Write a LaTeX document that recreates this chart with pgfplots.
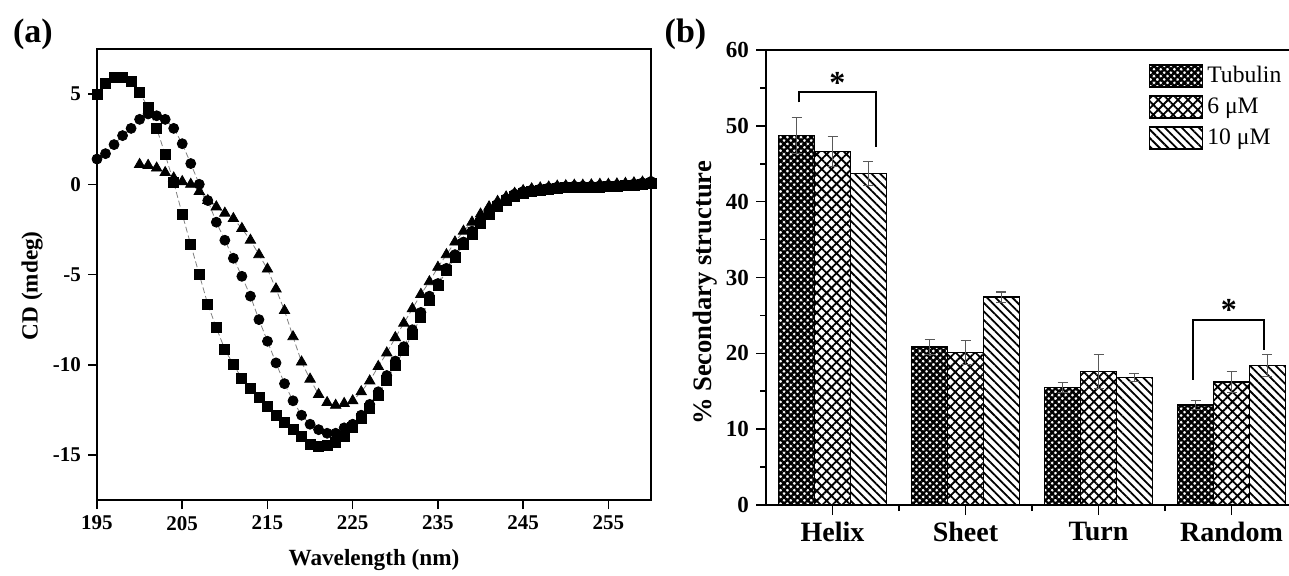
\documentclass[border=0pt]{standalone}
\usepackage{fontspec}
\setmainfont{Liberation Serif}
\usepackage{pgfplots}
\usepackage{pgfplotstable}
\pgfplotsset{compat=1.18}
\usetikzlibrary{patterns.meta}

% CD spectra (wavelength, squares, circles, triangles)
\pgfplotstableread{
wl sq ci tr
195 5.0 1.4 nan
196 5.6 1.7 nan
197 5.9 2.2 nan
198 5.9 2.7 nan
199 5.7 3.1 nan
200 5.1 3.6 1.1
201 4.25 3.9 1.05
202 3.1 3.8 0.9
203 1.65 3.6 0.65
204 0.1 3.1 0.35
205 -1.65 2.25 0.15
206 -3.35 1.15 0.0
207 -5.0 0.0 -0.4
208 -6.65 -0.9 -0.9
209 -7.95 -2.1 -1.25
210 -9.15 -3.1 -1.6
211 -10.0 -4.1 -1.9
212 -10.75 -5.1 -2.45
213 -11.3 -6.2 -3.1
214 -11.8 -7.5 -3.9
215 -12.3 -8.7 -4.7
216 -12.8 -9.9 -5.8
217 -13.2 -11.05 -7.0
218 -13.6 -12.0 -8.45
219 -14.0 -12.8 -9.85
220 -14.4 -13.3 -10.8
221 -14.55 -13.6 -11.65
222 -14.5 -13.8 -12.1
223 -14.3 -13.8 -12.25
224 -13.95 -13.5 -12.15
225 -13.5 -13.3 -12.0
226 -13.0 -12.8 -11.5
227 -12.4 -12.2 -10.9
228 -11.7 -11.5 -10.1
229 -10.85 -10.6 -9.35
230 -10.05 -9.8 -8.5
231 -9.2 -9.0 -7.7
232 -8.3 -8.06 -6.9
233 -7.35 -7.1 -6.1
234 -6.45 -6.2 -5.4
235 -5.6 -5.5 -4.6
236 -4.8 -4.66 -3.9
237 -4.05 -3.9 -3.2
238 -3.35 -3.2 -2.6
239 -2.75 -2.6 -2.1
240 -2.15 -2.0 -1.65
241 -1.65 -1.46 -1.25
242 -1.25 -1.1 -0.95
243 -0.9 -0.8 -0.7
244 -0.65 -0.54 -0.5
245 -0.5 -0.4 -0.35
246 -0.4 -0.32 -0.25
247 -0.32 -0.26 -0.2
248 -0.27 -0.2 -0.15
249 -0.22 -0.15 -0.1
250 -0.18 -0.12 -0.08
251 -0.15 -0.1 -0.05
252 -0.15 -0.1 -0.05
253 -0.15 -0.1 -0.03
254 -0.15 -0.08 0.0
255 -0.12 -0.06 0.0
256 -0.1 -0.05 0.02
257 -0.08 -0.02 0.05
258 -0.05 0.02 0.08
259 0.0 0.08 0.12
260 0.05 0.15 0.18
}\cdtable

% secondary structure (%), with errors
\pgfplotstableread{
x tub tube six sixe ten tene
0 48.7 2.4 46.6 2.0 43.7 1.6
1 20.8 1.0 20.1 1.6 27.4 0.7
2 15.5 0.7 17.6 2.2 16.8 0.5
3 13.2 0.6 16.2 1.4 18.4 1.5
}\sstable

\pgfplotsset{
  barleg/.style={legend image code/.code={\draw[##1] (0pt,-5.5pt) rectangle (26.5pt,5.5pt);}},
}

\begin{document}
\begin{tikzpicture}

\node[font=\bfseries\fontsize{17}{17}\selectfont] at (16.5pt,270.5pt) {(a)};
\node[font=\bfseries\fontsize{17}{17}\selectfont] at (342.75pt,270.5pt) {(b)};

\begin{axis}[
  at={(48.5pt,37.5pt)}, anchor=south west,
  scale only axis, width=277pt, height=225.5pt,
  xmin=195, xmax=260, ymin=-17.5, ymax=7.5,
  xtick={195,205,...,255}, ytick={-15,-10,...,5},
  tick pos=left, tick align=outside,
  major tick length=4.5pt,
  every tick/.style={black, line width=0.8pt},
  axis line style={line width=1pt},
  /pgf/number format/assume math mode=true,
  ticklabel style={font=\bfseries\fontsize{10.5}{12}\selectfont},
  label style={font=\bfseries\fontsize{11.6}{13}\selectfont},
  xlabel={Wavelength (nm)},
  ylabel={CD (mdeg)},
  xlabel style={at={(axis description cs:0.5,-0.133)}, anchor=center},
  ylabel style={at={(axis description cs:-0.117,0.475)}, anchor=center},
]
\addplot[gray, dash pattern=on 3pt off 1.5pt, line width=0.4pt,
  mark=square*, mark size=2.5pt, mark options={solid, black}]
  table[x=wl, y=sq] {\cdtable};
\addplot[gray, dash pattern=on 3pt off 1.5pt, line width=0.4pt,
  mark=*, mark size=2.5pt, mark options={solid, black}]
  table[x=wl, y=ci] {\cdtable};
\addplot[gray, dash pattern=on 3pt off 1.5pt, line width=0.4pt,
  mark=triangle*, mark size=3pt, mark options={solid, black}]
  table[x=wl, y=tr] {\cdtable};
\end{axis}

\begin{axis}[
  at={(383pt,35pt)}, anchor=south west,
  scale only axis, width=266pt, height=227.5pt,
  xmin=-0.5, xmax=3.5, ymin=0, ymax=60,
  ybar=0pt, bar width=0.27,
  xtick={0,1,2,3}, xticklabels={Helix,Sheet,Turn,Random},
  minor xtick={0.5,1.5,2.5},
  ytick={0,10,...,60}, minor y tick num=1,
  tick pos=left, tick align=outside,
  major tick length=5pt, minor tick length=3pt,
  every tick/.style={black, line width=0.8pt},
  axis line style={line width=1pt},
  /pgf/number format/assume math mode=true,
  yticklabel style={font=\bfseries\fontsize{11.5}{13}\selectfont},
  xticklabel style={font=\bfseries\fontsize{14}{16}\selectfont},
  ylabel={\% Secondary structure},
  ylabel style={font=\bfseries\fontsize{13.3}{15}\selectfont,
    at={(axis description cs:-0.1147,0.466)}, anchor=center},
  legend style={draw=none, fill=none, at={(axis description cs:0.715,0.978)},
    anchor=north west, font=\fontsize{11.8}{13}\selectfont,
    row sep=2pt, inner sep=1pt},
  legend cell align=left,
  error bars/error bar style={gray!70!black, line width=0.6pt},
  error bars/error mark options={rotate=90, mark size=2.5pt, line width=0.6pt, gray!70!black},
]
\addplot[barleg, draw=black, line width=0.8pt, pattern color=black,
  pattern={Hatch[angle=45, distance=2.4pt, line width=1.2pt]},
  error bars/.cd, y dir=both, y explicit]
  table[x=x, y=tub, y error=tube] {\sstable};
\addplot[barleg, draw=black, line width=0.8pt, pattern color=black,
  pattern={Hatch[angle=45, distance=3.5pt, line width=0.9pt]},
  error bars/.cd, y dir=both, y explicit]
  table[x=x, y=six, y error=sixe] {\sstable};
\addplot[barleg, draw=black, line width=0.8pt, pattern color=black,
  pattern={Lines[angle=-45, distance=3pt, line width=0.9pt]},
  error bars/.cd, y dir=both, y explicit]
  table[x=x, y=ten, y error=tene] {\sstable};
\legend{Tubulin, 6 μM, 10 μM}

\draw[line width=0.9pt] (axis cs:-0.252,53.1) -- (axis cs:-0.252,54.5)
  -- (axis cs:0.327,54.5) -- (axis cs:0.327,47.2);
\node[font=\bfseries\fontsize{16}{16}\selectfont] at (axis cs:0.037,55.6) {*};
\draw[line width=0.9pt] (axis cs:2.708,16.5) -- (axis cs:2.708,24.4)
  -- (axis cs:3.244,24.4) -- (axis cs:3.244,20.4);
\node[font=\bfseries\fontsize{16}{16}\selectfont] at (axis cs:2.98,25.75) {*};
\end{axis}

\pgfresetboundingbox
\useasboundingbox (0,0) rectangle (644.5pt,287.5pt);
\end{tikzpicture}
\end{document}
